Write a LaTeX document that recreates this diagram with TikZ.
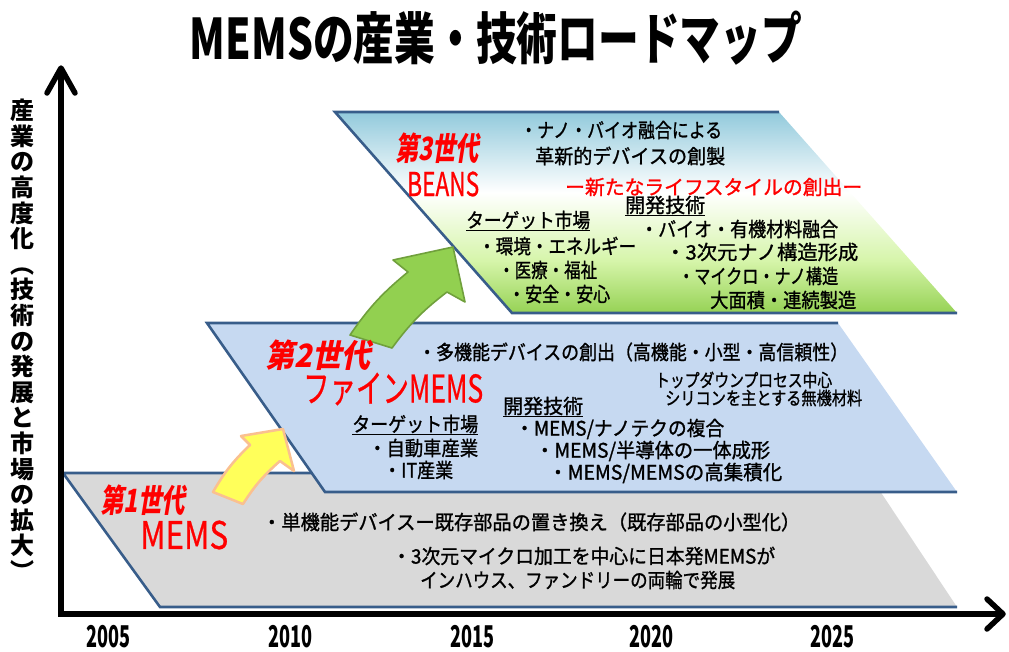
\documentclass[tikz,border=0pt]{standalone}
\usepackage{fontspec}
\usepackage{graphicx}
\newfontfamily\jp{Noto Sans CJK JP}
\newfontfamily\jpsl{Noto Sans CJK JP}[FakeSlant=0.22]
\newfontfamily\jpm{Noto Sans CJK JP}[FakeBold=1.2]
\newfontfamily\jpr{Noto Sans CJK JP}[FakeBold=0.7]
\definecolor{edgeblue}{RGB}{56,93,138}
\definecolor{grayfill}{RGB}{217,217,217}
\definecolor{bluefill}{RGB}{198,217,241}
\definecolor{gB}{RGB}{150,210,85}
\definecolor{gM}{RGB}{214,245,170}
\definecolor{gT}{RGB}{146,202,220}
\definecolor{ylw}{RGB}{255,255,90}
\definecolor{ylwedge}{RGB}{250,192,144}
\definecolor{grn}{RGB}{146,208,80}
\definecolor{grnedge}{RGB}{112,160,60}
\pgfdeclareverticalshading{beans}{100bp}{color(0bp)=(gB); color(25bp)=(gB); color(38bp)=(gM); color(55bp)=(white); color(75bp)=(gT); color(100bp)=(gT)}
\newcommand\fw[2]{\resizebox{#1pt}{\height}{#2}}
\begin{document}
\begin{tikzpicture}[x=1pt,y=-1pt,
  txt/.style={anchor=west,inner sep=0pt,font=\jpm\fontsize{20}{20}\selectfont,text=black},
  small/.style={txt,font=\jpm\fontsize{18}{18}\selectfont},
  gen/.style={anchor=west,inner sep=0pt,font=\jpsl\bfseries\fontsize{32}{32}\selectfont,text=red},
  genname/.style={anchor=west,inner sep=0pt,text=red},
  year/.style={inner sep=0pt,font=\jp\bfseries\fontsize{30}{30}\selectfont},
  edge/.style={draw=edgeblue,line width=2.6pt,line join=miter},
  axis/.style={line width=5.5pt,black},
  barb/.style={line width=5.5pt,black,line cap=round,line join=round}]
\useasboundingbox (0,0) rectangle (1009,651);
% ---------- 1st generation (gray)
\coordinate (a1) at (63,473); \coordinate (a2) at (160,607);
\coordinate (a3) at (957,607); \coordinate (a4) at (868,473);
\fill[grayfill] (a1) -- (a2) -- (a3) -- (a4) -- cycle;
\draw[edge] (a4) -- (a1) -- (a2) -- (a3);
% ---------- 2nd generation (blue)
\coordinate (b1) at (207,323); \coordinate (b2) at (325,492);
\coordinate (b3) at (957,492); \coordinate (b4) at (838,323);
\fill[bluefill] (b1) -- (b2) -- (b3) -- (b4) -- cycle;
\draw[edge] (b4) -- (b1) -- (b2) -- (b3);
% ---------- 3rd generation (gradient)
\coordinate (c1) at (335,112); \coordinate (c2) at (512,313);
\coordinate (c3) at (957,313); \coordinate (c4) at (779,112);
\shade[shading=beans] (c1) -- (c2) -- (c3) -- (c4) -- cycle;
\draw[edge] (c4) -- (c1) -- (c2) -- (c3);
% ---------- arrows between generations
\coordinate (y1) at (213,492); \coordinate (y2) at (250,445); \coordinate (y3) at (241,436);
\coordinate (y4) at (283,429); \coordinate (y5) at (294,471); \coordinate (y6) at (280,461);
\coordinate (y7) at (243,504);
\filldraw[fill=ylw,draw=ylwedge,line width=2.5pt,line join=round]
  (y1) to[bend left=8] (y2) -- (y3) -- (y4) -- (y5) -- (y6) to[bend right=8] (y7) -- cycle;
\coordinate (g1) at (350,335); \coordinate (g2) at (408,272); \coordinate (g3) at (393,260);
\coordinate (g4) at (453,247); \coordinate (g5) at (465,302); \coordinate (g6) at (447,292);
\coordinate (g7) at (392,348);
\filldraw[fill=grn,draw=grnedge,line width=1.6pt,line join=round]
  (g1) to[bend left=8] (g2) -- (g3) -- (g4) -- (g5) -- (g6) to[bend right=8] (g7) -- cycle;
% ---------- axes
\coordinate (ytip) at (61,68); \coordinate (org) at (61,614); \coordinate (xtip) at (1003,614);
\draw[axis,line join=miter] (ytip) -- (org) -- (xtip);
\draw[barb] (ytip) ++(-14,25) -- (ytip) -- ++(14,25);
\draw[barb] (xtip) ++(-16,-15) -- (xtip) -- ++(-16,15);
% ---------- title and axis labels
\node[font=\jp\bfseries\fontsize{56}{56}\selectfont,inner sep=0pt] (title) at (496,38) {\fw{612}{MEMSの産業・技術ロードマップ}};
\node[font=\jp\bfseries\fontsize{24}{25.6}\selectfont,align=center,anchor=north,inner sep=0pt] (ylab) at (22,99)
 {産\\業\\の\\高\\度\\化\\︵\\技\\術\\の\\発\\展\\と\\市\\場\\の\\拡\\大\\︶};
\node[year] (y05) at (108,637) {\fw{44}{2005}};
\node[year] (y10) at (290,637) {\fw{44}{2010}};
\node[year] (y15) at (472,637) {\fw{44}{2015}};
\node[year] (y20) at (651,637) {\fw{44}{2020}};
\node[year] (y25) at (832,637) {\fw{44}{2025}};
% ---------- 3rd generation texts
\node[gen] (g3t) at (395,148) {\fw{84}{第3世代}};
\node[genname,font=\jpr\fontsize{33}{33}\selectfont] (g3n) at (407,184) {\fw{72}{BEANS}};
\node[txt] (t31) at (520,130) {\fw{202}{・ナノ・バイオ融合による}};
\node[txt] (t32) at (535,156) {\fw{190}{革新的デバイスの創製}};
\node[txt,text=red] (t33) at (565,187) {\fw{297}{ー新たなライフスタイルの創出ー}};
\node[txt] (t34) at (625,206) {\fw{80}{\underline{開発技術}}};
\node[txt] (t35) at (466,221) {\fw{124}{\underline{ターゲット市場}}};
\node[txt] (t36) at (640,229) {\fw{198}{・バイオ・有機材料融合}};
\node[txt] (t37) at (478,246) {\fw{158}{・環境・エネルギー}};
\node[txt] (t38) at (665,252) {\fw{193}{・3次元ナノ構造形成}};
\node[txt] (t39) at (498,270) {\fw{99}{・医療・福祉}};
\node[txt] (t310) at (678,276) {\fw{160}{・マイクロ・ナノ構造}};
\node[txt] (t311) at (508,294) {\fw{102}{・安全・安心}};
\node[txt] (t312) at (710,300) {\fw{146}{大面積・連続製造}};
% ---------- 2nd generation texts
\node[gen] (g2t) at (265,355) {\fw{105}{第2世代}};
\node[genname,font=\jpr\fontsize{38}{38}\selectfont] (g2n) at (303,389) {\fw{180}{ファインMEMS}};
\node[txt] (t21) at (418,352) {\fw{430}{・多機能デバイスの創出（高機能・小型・高信頼性）}};
\node[small] (t22) at (655,380) {\fw{177}{トップダウンプロセス中心}};
\node[small] (t23) at (665,398) {\fw{197}{シリコンを主とする無機材料}};
\node[txt] (t24) at (503,407) {\fw{80}{\underline{開発技術}}};
\node[txt] (t25) at (352,425) {\fw{126}{\underline{ターゲット市場}}};
\node[txt] (t26) at (515,429) {\fw{209}{・MEMS/ナノテクの複合}};
\node[txt] (t27) at (368,448) {\fw{110}{・自動車産業}};
\node[txt] (t28) at (535,451) {\fw{235}{・MEMS/半導体の一体成形}};
\node[txt] (t29) at (383,470) {\fw{70}{・IT産業}};
\node[txt] (t210) at (548,473) {\fw{234}{・MEMS/MEMSの高集積化}};
% ---------- 1st generation texts
\node[gen] (g1t) at (100,500) {\fw{85}{第1世代}};
\node[genname,font=\jpr\fontsize{38}{38}\selectfont] (g1n) at (140,535) {\fw{88}{MEMS}};
\node[txt] (t11) at (262,522) {\fw{538}{・単機能デバイスー既存部品の置き換え（既存部品の小型化）}};
\node[txt] (t12) at (392,556) {\fw{383}{・3次元マイクロ加工を中心に日本発MEMSが}};
\node[txt] (t13) at (420,580) {\fw{315}{インハウス、ファンドリーの両輪で発展}};
\end{tikzpicture}
\end{document}
